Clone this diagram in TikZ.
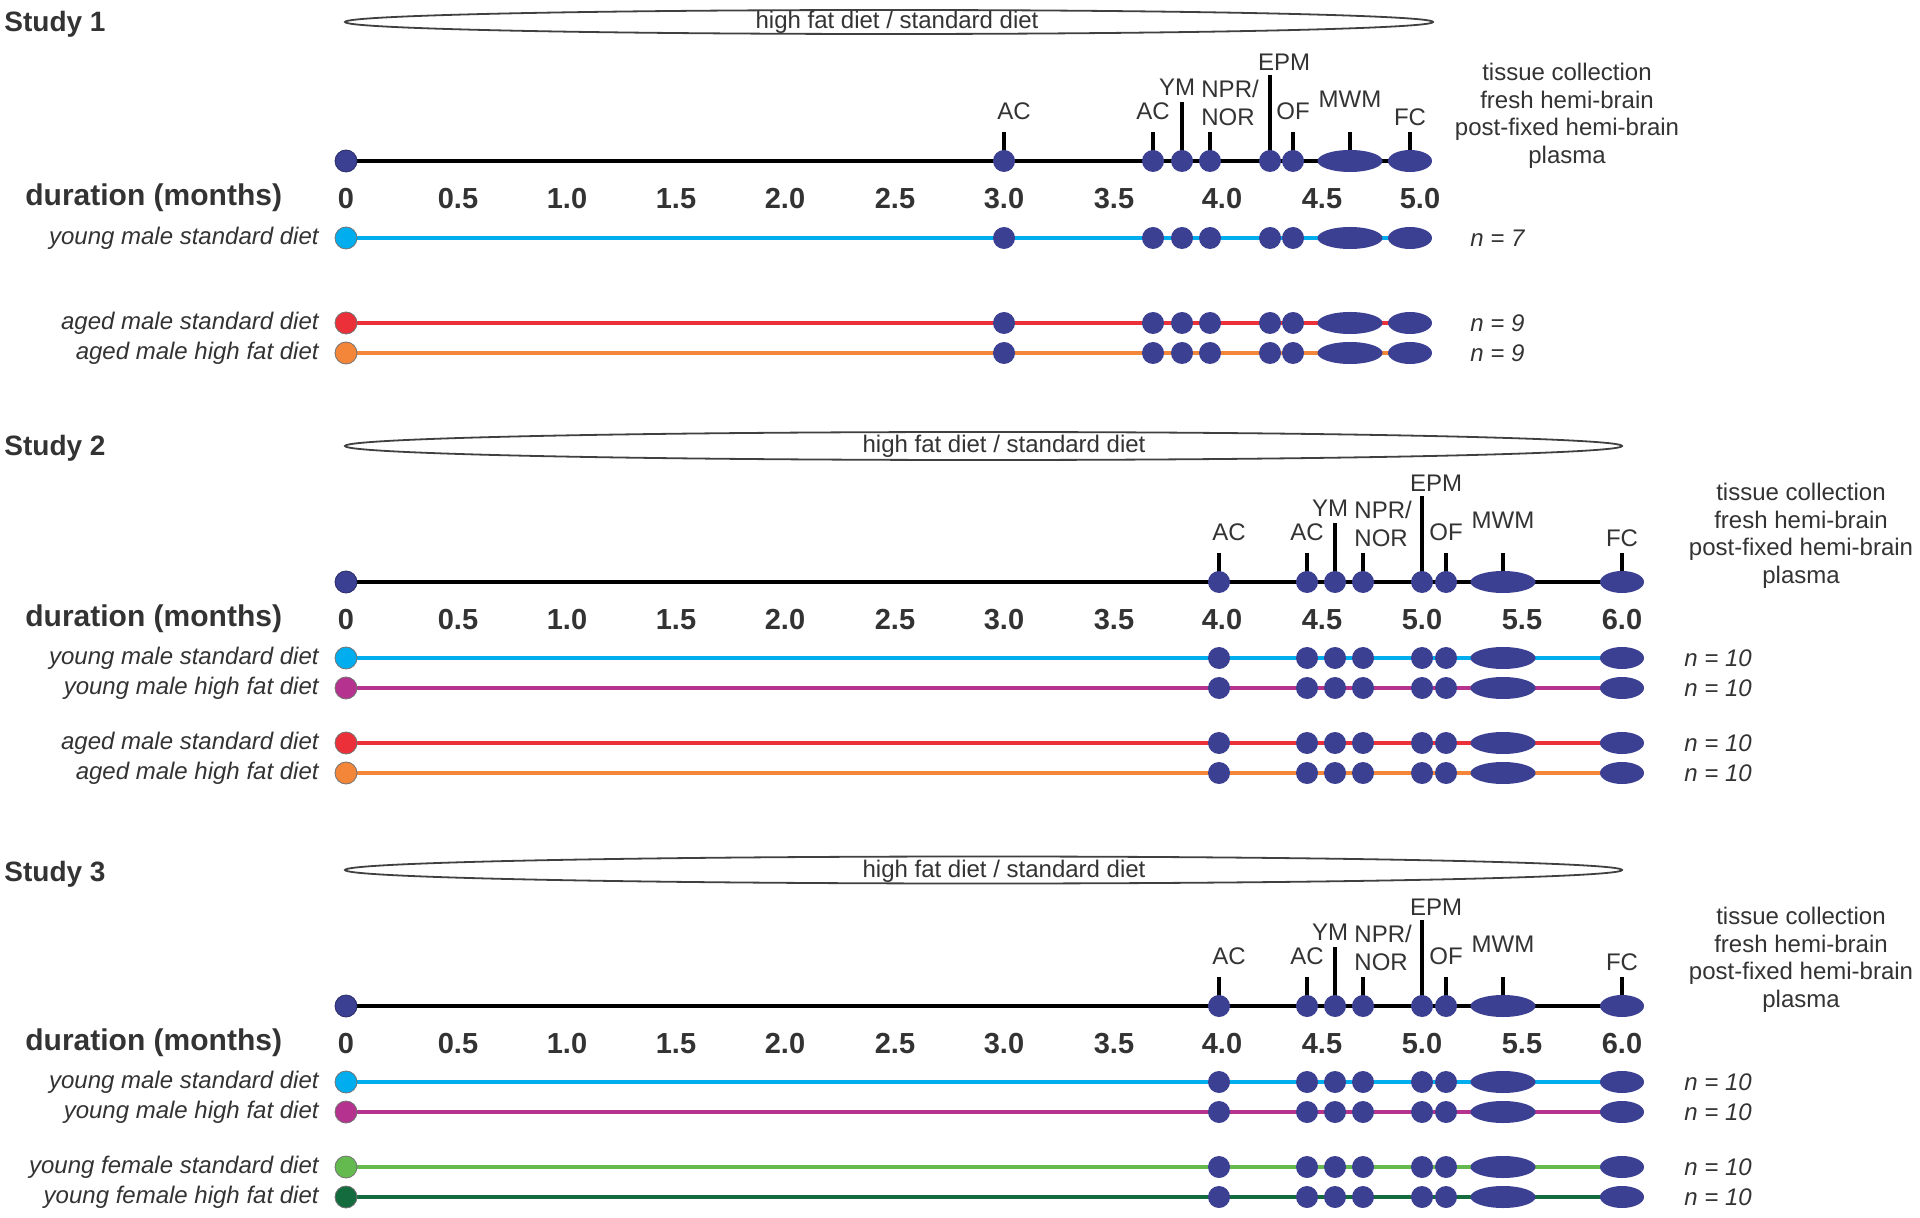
\documentclass[tikz,border=0pt]{standalone}
\usepackage{fontspec}
\setmainfont{Liberation Sans}
\usetikzlibrary{shapes.geometric,backgrounds,calc}
\pgfdeclarelayer{bottom}
\pgfsetlayers{bottom,background,main}
\definecolor{dotblue}{HTML}{3C4093}
\definecolor{txt}{HTML}{333333}
\definecolor{cyanl}{HTML}{00AEEF}
\definecolor{magl}{HTML}{B5328E}
\definecolor{redl}{HTML}{EC3039}
\definecolor{orgl}{HTML}{F4863A}
\definecolor{grnl}{HTML}{64BA4F}
\definecolor{dgrnl}{HTML}{146B3E}
\tikzset{
  ev/.style={circle,fill=dotblue,inner sep=0pt,minimum size=11pt},
  evm/.style={ellipse,fill=dotblue,inner sep=0pt,minimum width=32.5pt,minimum height=11pt},
  evf/.style={ellipse,fill=dotblue,inner sep=0pt,minimum width=22pt,minimum height=11pt},
  startdot/.style={circle,draw=black!55,line width=0.4pt,inner sep=0pt,minimum size=11pt},
  startblue/.style={startdot,fill=dotblue,draw=dotblue!70!black},
  axisline/.style={line width=2.4pt,black},
  rowline/.style={line width=2.4pt},
  tickline/.style={line width=1.8pt,black},
  evlabel/.style={font=\fontsize{12}{14}\selectfont,text=txt,inner sep=0pt},
  rowlab/.style={font=\itshape\fontsize{12}{12}\selectfont,text=txt,inner sep=0pt},
  nlab/.style={font=\itshape\fontsize{12}{12}\selectfont,text=txt,inner sep=0pt},
  ticklab/.style={font=\bfseries\fontsize{14.5}{14.5}\selectfont,text=txt,inner sep=0pt},
  durlab/.style={font=\bfseries\fontsize{15}{15}\selectfont,text=txt,inner sep=0pt},
  studytitle/.style={font=\bfseries\fontsize{14}{14}\selectfont,text=txt,inner sep=0pt},
  tissue/.style={font=\fontsize{12}{13.75}\selectfont,text=txt,align=center,inner sep=0pt},
  dietell/.style={ellipse,draw=black!75,line width=0.9pt,inner sep=0pt},
  diettxt/.style={font=\fontsize{12}{12}\selectfont,text=txt,inner sep=0pt},
}
\def\evA{1004/ev,1153/ev,1182/ev,1210/ev,1270/ev,1293/ev,1350/evm,1410/evf}
\def\evB{1219/ev,1307/ev,1335/ev,1363/ev,1422/ev,1446/ev,1503/evm,1622/evf}
\def\tkA{0/346,0.5/458,1.0/567,1.5/676,2.0/785,2.5/895,3.0/1004,3.5/1114,4.0/1222,4.5/1322,5.0/1420}
\def\tkB{0/346,0.5/458,1.0/567,1.5/676,2.0/785,2.5/895,3.0/1004,3.5/1114,4.0/1222,4.5/1322,5.0/1422,5.5/1522,6.0/1622}
% #1 prefix, #2 axis y, #3 event list, #4 tick list
\newcommand\mkaxis[4]{%
  \node[startblue] (#1-0) at (346,#2) {};
  \foreach \ex/\es [count=\ei] in #3 {\node[\es] (#1-\ei) at (\ex,#2) {};}
  \begin{pgfonlayer}{background}
    \draw[axisline] (#1-0.center) -- (#1-8.center);
    \foreach \ei/\tlen in {1/29,2/29,3/59,4/29,5/86,6/29,7/29,8/29}
      \draw[tickline] (#1-\ei.center) -- ++(0,-\tlen);
  \end{pgfonlayer}
  \node[evlabel] (#1-L1) at ($(#1-1)+(10,-50)$) {AC};
  \node[evlabel] (#1-L2) at ($(#1-2)+(0,-50)$) {AC};
  \node[evlabel] (#1-L3) at ($(#1-3)+(-5,-74)$) {YM};
  \node[evlabel,anchor=west,align=left] (#1-L4) at ($(#1-4)+(-9,-58)$) {NPR/\\NOR};
  \node[evlabel] (#1-L5) at ($(#1-5)+(14,-99)$) {EPM};
  \node[evlabel] (#1-L6) at ($(#1-6)+(0,-50)$) {OF};
  \node[evlabel] (#1-L7) at ($(#1-7)+(0,-62)$) {MWM};
  \node[evlabel] (#1-L8) at ($(#1-8)+(0,-44)$) {FC};
  \node[durlab,anchor=west] (#1-dur) at (25,#2+37) {duration (months)};
  \foreach \tv/\tx [count=\ti] in #4 {\node[ticklab] (#1-t\ti) at (\tx,#2+38) {\tv};}
}
% #1 prefix, #2 y, #3 colour, #4 label, #5 n text, #6 n x, #7 event list
\newcommand\mkrow[7]{%
  \node[startdot,fill=#3] (#1-0) at (346,#2) {};
  \foreach \ex/\es [count=\ei] in #7 {\node[\es] (#1-\ei) at (\ex,#2) {};}
  \begin{pgfonlayer}{background}
    \draw[rowline,draw=#3] (#1-0.center) -- (#1-8.center);
  \end{pgfonlayer}
  \node[rowlab,anchor=base east] (#1-lab) at (319,#2+6.5) {#4};
  \node[nlab,anchor=west] (#1-n) at (#6,#2) {#5};
}
\begin{document}
\begin{tikzpicture}[x=0.5pt,y=-0.5pt]
\useasboundingbox (0,0) rectangle (1920,1218);
\begin{pgfonlayer}{bottom}
  \fill[white] (0,0) rectangle (1920,1218);
\end{pgfonlayer}

% ---------------- Study 1 ----------------
\node[studytitle,anchor=base west] (st1) at (4,32) {Study 1};
\node[dietell,minimum width=544pt,minimum height=12pt] (diet1) at (889,22) {};
\node[diettxt] (diet1t) at (897,22) {high fat diet / standard diet};
\mkaxis{a1}{161}{\evA}{\tkA}
\node[tissue] (tis1) at (1567,116) {tissue collection\\fresh hemi-brain\\post-fixed hemi-brain\\plasma};
\mkrow{a1r1}{238}{cyanl}{young male standard diet}{n = 7}{1470}{\evA}
\mkrow{a1r2}{323}{redl}{aged male standard diet}{n = 9}{1470}{\evA}
\mkrow{a1r3}{353}{orgl}{aged male high fat diet}{n = 9}{1470}{\evA}

% ---------------- Study 2 ----------------
\node[studytitle,anchor=base west] (st2) at (4,456) {Study 2};
\node[dietell,minimum width=638.5pt,minimum height=14pt] (diet2) at (983.5,446) {};
\node[diettxt] (diet2t) at (1004,446) {high fat diet / standard diet};
\mkaxis{a2}{582}{\evB}{\tkB}
\node[tissue] (tis2) at (1801,536) {tissue collection\\fresh hemi-brain\\post-fixed hemi-brain\\plasma};
\mkrow{a2r1}{658}{cyanl}{young male standard diet}{n = 10}{1684}{\evB}
\mkrow{a2r2}{688}{magl}{young male high fat diet}{n = 10}{1684}{\evB}
\mkrow{a2r3}{743}{redl}{aged male standard diet}{n = 10}{1684}{\evB}
\mkrow{a2r4}{773}{orgl}{aged male high fat diet}{n = 10}{1684}{\evB}

% ---------------- Study 3 ----------------
\node[studytitle,anchor=base west] (st3) at (4,881) {Study 3};
\node[dietell,minimum width=638.5pt,minimum height=13.5pt] (diet3) at (983.5,870) {};
\node[diettxt] (diet3t) at (1004,871) {high fat diet / standard diet};
\mkaxis{a3}{1006}{\evB}{\tkB}
\node[tissue] (tis3) at (1801,960) {tissue collection\\fresh hemi-brain\\post-fixed hemi-brain\\plasma};
\mkrow{a3r1}{1082}{cyanl}{young male standard diet}{n = 10}{1684}{\evB}
\mkrow{a3r2}{1112}{magl}{young male high fat diet}{n = 10}{1684}{\evB}
\mkrow{a3r3}{1167}{grnl}{young female standard diet}{n = 10}{1684}{\evB}
\mkrow{a3r4}{1197}{dgrnl}{young female high fat diet}{n = 10}{1684}{\evB}
\end{tikzpicture}
\end{document}
